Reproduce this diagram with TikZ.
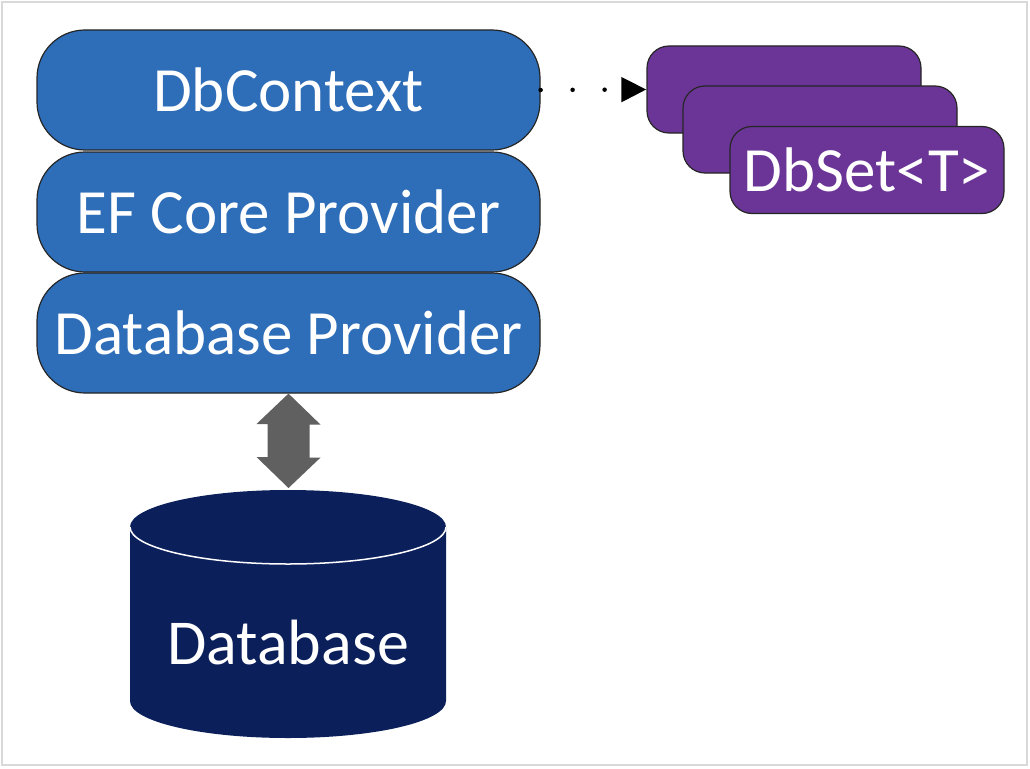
\documentclass[tikz,border=0pt]{standalone}
\usepackage{fontspec}
\setmainfont{Carlito}
\usetikzlibrary{arrows.meta,calc}
\definecolor{efblue}{HTML}{2E6DB8}
\definecolor{dbpurple}{HTML}{6A3596}
\definecolor{dbnavy}{HTML}{0B1F5B}
\definecolor{arrgray}{HTML}{606060}
\definecolor{framegray}{HTML}{D9D9D9}
\begin{document}
\begin{tikzpicture}[x=1pt,y=-1pt,
  layer/.style={draw=black!85, line width=1.2pt, fill=efblue, rounded corners=48pt,
    minimum width=503pt, minimum height=120pt, text=white,
    font=\fontsize{63}{66}\selectfont, inner sep=0pt},
  setbox/.style={draw=black!85, line width=1.2pt, fill=dbpurple, rounded corners=22pt,
    minimum width=274pt, minimum height=87pt, inner sep=0pt, text=white,
    font=\fontsize{63}{66}\selectfont},
  dotarrow/.style={line width=4.5pt, dash pattern=on 0pt off 32pt, line cap=round,
    -{Triangle[length=25pt,width=24pt]}},
  dbtext/.style={text=white, font=\fontsize{64}{68}\selectfont, inner sep=0pt}]
\useasboundingbox (0,0) rectangle (1030,768);
\draw[framegray, line width=2pt, fill=white] (2,2) rectangle (1027,765);

% stacked layers
\node[layer] (ctx) at (288.5,90) {DbContext};
\node[layer] (ef) at (288.5,212) {EF Core Provider};
\node[layer] (dbp) at (288.5,333) {Database Provider};

% DbSet stack
\node[setbox] (s1) at (784,89.5) {};
\node[setbox] (s2) at (820,129.5) {};
\node[setbox] (s3) at (867,170) {DbSet<T>};

\draw[dotarrow] (ctx.east) -- (s1.west);

% database cylinder
\coordinate (dbtop) at (288.5,488);
\fill[dbnavy] (130,527) -- (130,701)
  arc[start angle=180,end angle=360,x radius=158pt,y radius=37pt]
  -- (446,527)
  arc[start angle=0,end angle=180,x radius=158pt,y radius=37pt] -- cycle;
\draw[white, line width=1.5pt] (130,527)
  arc[start angle=180,end angle=360,x radius=158pt,y radius=37pt];
\node[dbtext] (db) at (288,643) {Database};

% double arrow between provider and database
\fill[arrgray] (dbp.south) -- ++(32,31) -- ++(-11,0) -- ++(0,33) -- ++(11,0)
  -- (dbtop) -- ++(-32,-31) -- ++(11,0) -- ++(0,-33) -- ++(-11,0) -- cycle;
\end{tikzpicture}
\end{document}
